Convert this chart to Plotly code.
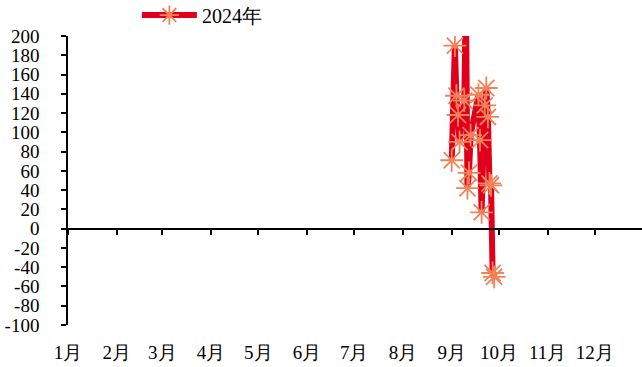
import plotly.graph_objects as go

# ---- data ----
dates = ["2024-09-01", "2024-09-03", "2024-09-04", "2024-09-05", "2024-09-06",
         "2024-09-09", "2024-09-10", "2024-09-11", "2024-09-12", "2024-09-13",
         "2024-09-18", "2024-09-19", "2024-09-20", "2024-09-22", "2024-09-23",
         "2024-09-24", "2024-09-25", "2024-09-26", "2024-09-27", "2024-09-28"]
values = [71, 190, 138, 118, 90,
          133, 250, 42, 58, 97,
          139, 92, 17, 128, 146,
          116, 47, 45, -46, -50]
series_name = "2024年"

month_starts = ["2024-%02d-01" % m for m in range(1, 13)]
month_labels = ["%d月" % m for m in range(1, 13)]
y_ticks = list(range(-100, 201, 20))
y_tick_labels = [str(v) for v in y_ticks]  # plain hyphen minus as in reference

font_family = "Liberation Serif, DejaVu Serif, serif"

fig = go.Figure()
fig.add_trace(go.Scatter(
    x=dates, y=values, name=series_name, mode="lines+markers",
    line=dict(color="#E0001B", width=6),
    marker=dict(symbol="asterisk-open", size=19,
                line=dict(color="#F2825A", width=1.8), color="#F2825A"),
    xaxis="x", yaxis="y",
))
# helper trace to make the label axis render
fig.add_trace(go.Scatter(x=[month_starts[0]], y=[None], xaxis="x2", yaxis="y",
                         showlegend=False, hoverinfo="skip"))

xr = ["2024-01-01", "2024-12-31"]
fig.update_layout(
    width=642, height=367,
    margin=dict(l=68, r=0, t=36, b=42, autoexpand=False),
    paper_bgcolor="white", plot_bgcolor="white",
    font=dict(family=font_family, size=19, color="black"),
    showlegend=True,
    legend=dict(x=0.12, y=1.14, xanchor="left", yanchor="top",
                orientation="h", font=dict(family=font_family, size=20),
                bgcolor="rgba(0,0,0,0)", itemwidth=55),
    xaxis=dict(
        type="date", range=xr, anchor="free", position=1/3,
        showline=True, linecolor="black", linewidth=1.5,
        ticks="outside", ticklen=6, tickcolor="black", tickwidth=1.5,
        tickvals=month_starts, showticklabels=False,
        showgrid=False, zeroline=False,
    ),
    xaxis2=dict(
        type="date", range=xr, overlaying="x", anchor="y", side="bottom",
        showline=False, ticks="", tickvals=month_starts, ticktext=month_labels,
        ticklabelstandoff=14, tickfont=dict(family=font_family, size=19),
        showgrid=False, zeroline=False,
    ),
    yaxis=dict(
        range=[-100, 200], tickvals=y_ticks, ticktext=y_tick_labels,
        showline=True, linecolor="black", linewidth=1.5,
        ticks="outside", ticklen=5, tickcolor="black", tickwidth=1.5,
        ticklabelstandoff=18, tickfont=dict(family=font_family, size=19),
        showgrid=False, zeroline=False,
    ),
)

fig.write_html("out.html", config={"displayModeBar": False},
               post_script="document.body.style.margin='0';document.body.style.padding='0';")
